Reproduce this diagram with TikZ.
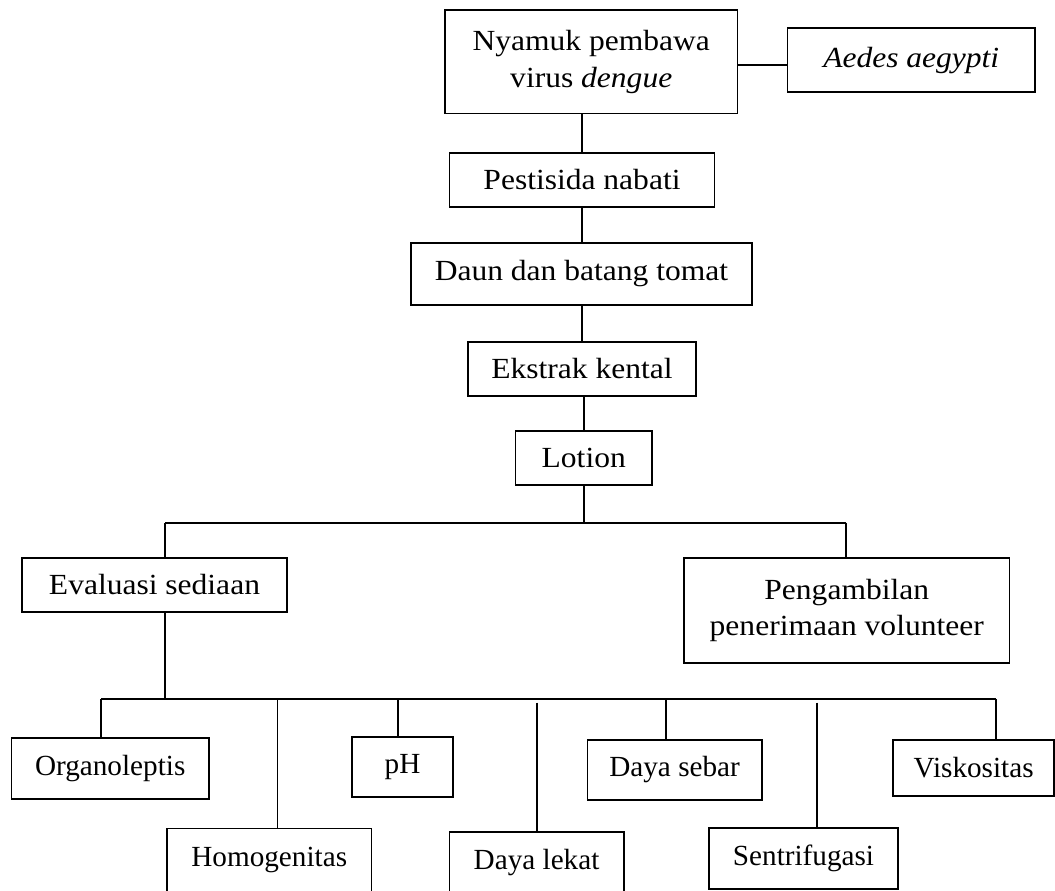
\documentclass[tikz,border=0pt]{standalone}
\usepackage{fontspec}
\setmainfont{Liberation Serif}
\newfontfamily\widefont{Liberation Serif}[FakeStretch=1.08]
\begin{document}
\begin{tikzpicture}[x=1pt,y=1pt,
  line width=1.7pt,
  topbox/.style={draw, line width=1.7pt, inner sep=0pt, align=center,
    font=\widefont\fontsize{29.2}{36.5}\selectfont},
  lowbox/.style={draw, line width=1.7pt, inner sep=0pt, align=center,
    font=\fontsize{29.2}{35}\selectfont},
  conn/.style={line width=1.7pt}]
\useasboundingbox (0,0) rectangle (1055,-891);
\clip (0,0) rectangle (1055,-891);
% upper chain
\node[topbox, minimum width=292.5pt, minimum height=103.5pt] (N1) at (591.25,-61.75) {Nyamuk pembawa\\virus \textit{dengue}};
\node[topbox, minimum width=247.5pt, minimum height=64.3pt] (A) at (911.25,-60.15) {\textit{Aedes aegypti}};
\node[topbox, minimum width=265pt, minimum height=54pt] (P) at (582,-180) {Pestisida nabati};
\node[topbox, minimum width=341pt, minimum height=62pt] (D) at (581.5,-274) {Daun dan batang tomat};
\node[topbox, minimum width=228pt, minimum height=54pt] (E) at (582,-369) {Ekstrak kental};
\node[topbox, minimum width=136.5pt, minimum height=54pt] (L) at (583.75,-458) {Lotion};
\node[topbox, minimum width=265pt, minimum height=54pt] (Ev) at (154.5,-585) {Evaluasi sediaan};
\node[topbox, minimum width=325.5pt, minimum height=105pt] (Pg) at (846.75,-610.5) {Pengambilan\\penerimaan volunteer};
% lower row
\node[lowbox, minimum width=197.6pt, minimum height=61pt] (Org) at (110.2,-768.5) {Organoleptis};
\node[lowbox, minimum width=204.5pt, minimum height=63.5pt] (Hom) at (269.25,-860.25) {Homogenitas};
\node[lowbox, minimum width=101pt, minimum height=60.3pt] (pH) at (402.5,-766.85) {pH};
\node[lowbox, minimum width=174.3pt, minimum height=62pt] (DL) at (536.55,-863) {Daya lekat};
\node[lowbox, minimum width=174.2pt, minimum height=60pt] (DS) at (674.6,-770) {Daya sebar};
\node[lowbox, minimum width=189pt, minimum height=61.3pt] (Sen) at (803.5,-858.65) {Sentrifugasi};
\node[lowbox, minimum width=161.3pt, minimum height=56pt] (Vis) at (973.65,-768) {Viskositas};
% junction coordinates
\coordinate (h1L) at (165,-522.7);
\coordinate (h1R) at (846,-522.7);
\coordinate (h2L) at (101,-699.3);
\coordinate (h2R) at (996,-699.3);
% connectors
\draw[conn] (N1.east |- 0,-64.7) -- (A.west |- 0,-64.7);
\draw[conn] (P.north) -- (P.north |- N1.south);
\draw[conn] (P.south) -- (D.north -| P.south);
\draw[conn] (E.north) -- (E.north |- D.south);
\draw[conn] (L.north) -- (L.north |- E.south);
\draw[conn] (L.south) -- (L.south |- h1L);
\draw[conn] (h1L) -- (h1R);
\draw[conn] (h1L) -- (h1L |- Ev.north);
\draw[conn] (h1R) -- (h1R |- Pg.north);
\draw[conn] (h1L |- Ev.south) -- (h1L |- h2L);
\draw[conn] (h2L) -- (h2R);
\draw[conn] (h2L) -- (h2L |- Org.north);
\draw[conn] (277.5,-699.3) -- (277.5,0 |- Hom.north);
\draw[conn] (398,-699.3) -- (398,0 |- pH.north);
\draw[conn] (536.7,-702.7) -- (536.7,0 |- DL.north);
\draw[conn] (666.3,-699.3) -- (666.3,0 |- DS.north);
\draw[conn] (816.7,-702.7) -- (816.7,0 |- Sen.north);
\draw[conn] (h2R) -- (h2R |- Vis.north);
\end{tikzpicture}
\end{document}
